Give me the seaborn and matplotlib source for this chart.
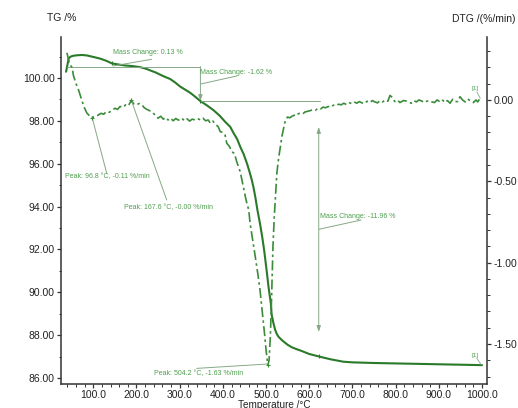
import numpy as np
import pandas as pd
import matplotlib
matplotlib.use("Agg")
import matplotlib.pyplot as plt
from matplotlib.ticker import MultipleLocator, FormatStrFormatter
import seaborn as sns

# ---------------- data ----------------
tg_temp = [37, 40, 43, 48, 55, 64, 74, 85, 100, 116,
           130, 143, 160, 175, 192, 209, 222, 232, 245, 255,
           266, 278, 290, 301, 313, 325, 336, 348, 363, 378,
           392, 405, 417, 425, 433, 440, 448, 456, 462, 467,
           471, 475, 480, 486, 491, 496, 502, 506, 511, 513,
           517, 521, 525, 529, 535, 540, 550, 560, 570, 580,
           600, 625, 650, 679, 700, 750, 800, 850, 900, 950,
           1000]
tg_mass = [100.29, 100.6, 100.92, 101.0, 101.04, 101.06, 101.07, 101.05, 100.98, 100.9,
           100.8, 100.68, 100.62, 100.58, 100.55, 100.5, 100.43, 100.35, 100.25, 100.15,
           100.05, 99.95, 99.78, 99.6, 99.45, 99.3, 99.12, 98.92, 98.72, 98.5,
           98.25, 97.96, 97.72, 97.42, 97.15, 96.8, 96.45, 96.0, 95.6, 95.24,
           94.88, 94.46, 93.84, 93.2, 92.6, 91.9, 90.9, 90.2, 89.5, 88.95,
           88.57, 88.25, 88.05, 87.92, 87.8, 87.71, 87.55, 87.43, 87.35, 87.28,
           87.12, 86.99, 86.87, 86.76, 86.73, 86.7, 86.68, 86.66, 86.64, 86.62,
           86.6]

dtg_temp = [39, 45, 51, 54, 60, 66, 72, 78, 85, 93,
            97, 103, 110, 118, 124, 130, 137, 143, 150, 156,
            162, 168, 175, 181, 188, 194, 200, 206, 213, 218,
            224, 230, 235, 242, 250, 256, 262, 268, 273, 279,
            285, 291, 297, 305, 311, 317, 323, 329, 336, 342,
            348, 354, 360, 366, 371, 377, 383, 389, 394, 400,
            405, 409, 415, 421, 427, 432, 436, 440, 444, 448,
            452, 456, 460, 463, 469, 475, 481, 486, 490, 494,
            497, 500, 504, 507, 510, 513, 516, 519, 522, 525,
            529, 533, 537, 541, 545, 550, 555, 560, 565, 570,
            575, 579, 585, 590, 596, 602, 608, 614, 620, 626,
            632, 638, 644, 650, 656, 662, 668, 674, 680, 686,
            692, 698, 704, 710, 716, 722, 728, 734, 740, 746,
            752, 758, 764, 770, 776, 782, 787, 792, 798, 804,
            810, 818, 824, 830, 836, 842, 848, 854, 860, 866,
            872, 878, 884, 890, 896, 902, 908, 914, 920, 926,
            932, 938, 944, 949, 955, 961, 967, 973, 980, 986,
            990, 995]
dtg_rate = [0.29, 0.22, 0.20, 0.15, 0.10, 0.06, 0.01, -0.04, -0.08, -0.103,
            -0.11, -0.10, -0.095, -0.082, -0.088, -0.072, -0.076, -0.064, -0.051, -0.058,
            -0.04, -0.046, -0.03, -0.036, -0.003, -0.025, -0.03, -0.022, -0.031, -0.048,
            -0.058, -0.066, -0.072, -0.09, -0.112, -0.1, -0.118, -0.108, -0.123, -0.112,
            -0.128, -0.114, -0.124, -0.112, -0.128, -0.116, -0.13, -0.118, -0.123, -0.115,
            -0.123, -0.112, -0.128, -0.123, -0.143, -0.13, -0.15, -0.164, -0.195, -0.2,
            -0.215, -0.266, -0.285, -0.318, -0.33, -0.379, -0.41, -0.44, -0.49, -0.54,
            -0.594, -0.64, -0.676, -0.758, -0.86, -0.963, -1.07, -1.168, -1.27, -1.37,
            -1.45, -1.537, -1.63, -1.60, -1.45, -1.2, -0.9, -0.72, -0.58, -0.45,
            -0.36, -0.29, -0.22, -0.17, -0.12, -0.105, -0.11, -0.1, -0.094, -0.098,
            -0.084, -0.082, -0.086, -0.074, -0.07, -0.066, -0.06, -0.064, -0.052, -0.056,
            -0.044, -0.048, -0.04, -0.044, -0.032, -0.036, -0.026, -0.03, -0.02, -0.028,
            -0.016, -0.022, -0.012, -0.02, -0.01, -0.018, -0.022, -0.008, -0.016, -0.004,
            -0.012, -0.018, -0.004, -0.012, 0.0, -0.008, 0.028, 0.016, -0.01, 0.0,
            -0.016, -0.004, -0.006, -0.012, -0.02, -0.004, -0.012, 0.0, -0.006, -0.016,
            -0.008, -0.004, -0.012, -0.016, 0.0, -0.01, 0.002, -0.016, -0.004, -0.02,
            0.004, -0.01, -0.01, 0.02, 0.0, -0.012, 0.006, -0.006, -0.016, 0.0,
            -0.012, 0.008]

x_ticks = [100, 200, 300, 400, 500, 600, 700, 800, 900, 1000]
tg_ticks = [86, 88, 90, 92, 94, 96, 98, 100]
dtg_ticks = [-1.5, -1.0, -0.5, 0.0]

tg_df = pd.DataFrame({"Temperature": tg_temp, "TG": tg_mass})
dtg_df = pd.DataFrame({"Temperature": dtg_temp, "DTG": dtg_rate})

# ---------------- style ----------------
sns.set_style("ticks")
plt.rcParams["font.family"] = ["Liberation Sans", "DejaVu Sans"]

TG_COLOR = "#2a7a2a"
DTG_COLOR = "#3a8c3a"
ANN_TEXT = "#4f9f4f"
ANN_LINE = "#86a886"
AX_COLOR = "#333333"

fig = plt.figure(figsize=(5.18, 4.08), dpi=100)
ax = fig.add_axes([61 / 518, 1 - 384 / 408, (487 - 61) / 518, (384 - 37) / 408])
ax2 = ax.twinx()

sns.lineplot(data=tg_df, x="Temperature", y="TG", ax=ax, color=TG_COLOR,
             linewidth=1.5, sort=False, estimator=None)
sns.lineplot(data=dtg_df, x="Temperature", y="DTG", ax=ax2, color=DTG_COLOR,
             linewidth=1.2, sort=False, estimator=None)
ax2.lines[0].set_dashes([6, 2, 1.5, 2])

ax.set_xlim(25.2, 1011.6)
ax.set_ylim(85.72, 101.91)
ax2.set_ylim(-1.746, 0.387)

ax.set_xticks(x_ticks)
ax.set_yticks(tg_ticks)
ax2.set_yticks(dtg_ticks)
ax.xaxis.set_minor_locator(MultipleLocator(20))
ax.yaxis.set_minor_locator(MultipleLocator(1))
ax2.yaxis.set_minor_locator(MultipleLocator(0.1))
ax.xaxis.set_major_formatter(FormatStrFormatter("%.1f"))
ax.yaxis.set_major_formatter(FormatStrFormatter("%.2f"))
ax2.yaxis.set_major_formatter(FormatStrFormatter("%.2f"))

for a in (ax, ax2):
    a.set_xlabel("")
    a.set_ylabel("")
    a.spines["top"].set_visible(False)
    for s in ("left", "right", "bottom"):
        a.spines[s].set_color(AX_COLOR)
        a.spines[s].set_linewidth(1.1)
    a.tick_params(which="major", direction="out", length=3, width=0.9,
                  color=AX_COLOR, labelsize=7.5, labelcolor="#222222", pad=1.5)
    a.tick_params(which="minor", direction="out", length=1.8, width=0.7, color=AX_COLOR)
ax.tick_params(axis="x", which="major", pad=1)
ax2.spines["left"].set_visible(False)
ax.spines["right"].set_visible(False)
ax2.spines["bottom"].set_visible(False)

fig.text(47 / 518, 1 - 18 / 408, "TG /%", fontsize=7.5, color="#222222",
         ha="left", va="center")
fig.text(516 / 518, 1 - 19 / 408, "DTG /(%/min)", fontsize=7.5, color="#222222",
         ha="right", va="center")
fig.text(274 / 518, 1 - 404.5 / 408, "Temperature /°C", fontsize=7.2, color="#222222",
         ha="center", va="center")

# ---------------- annotations ----------------
afs = 5
lw = 0.7
# Mass change 0.13 %
ax.plot([38, 348], [100.53, 100.53], color=ANN_LINE, lw=lw)
ax.plot([146, 235], [100.56, 100.87], color=ANN_LINE, lw=lw)
ax.text(145.6, 101.17, "Mass Change: 0.13 %", fontsize=afs, color=ANN_TEXT,
        ha="left", va="center")
# Mass change -1.62 %
ax.annotate("", xy=(348, 98.92), xytext=(348, 100.53),
            arrowprops=dict(arrowstyle="-|>,head_length=0.35,head_width=0.12",
                            color=ANN_LINE, lw=lw, shrinkA=0, shrinkB=0))
ax.plot([348, 625], [98.92, 98.92], color=ANN_LINE, lw=lw)
ax.plot([349, 432], [99.72, 100.09], color=ANN_LINE, lw=lw)
ax.text(347.4, 100.27, "Mass Change: -1.62 %", fontsize=afs, color=ANN_TEXT,
        ha="left", va="center")
# Mass change -11.96 %
ax.annotate("", xy=(622, 88.15), xytext=(622, 97.71),
            arrowprops=dict(arrowstyle="<|-|>,head_length=0.35,head_width=0.12",
                            color=ANN_LINE, lw=lw, shrinkA=0, shrinkB=0))
ax.plot([622.6, 720], [92.94, 93.37], color=ANN_LINE, lw=lw)
ax.text(624, 93.53, "Mass Change: -11.96 %", fontsize=afs, color=ANN_TEXT,
        ha="left", va="center")
# Peaks
ax2.plot([96.8, 131], [-0.103, -0.45], color=ANN_LINE, lw=lw)
ax2.text(34.5, -0.47, "Peak: 96.8 °C, -0.11 %/min", fontsize=afs, color=ANN_TEXT,
         ha="left", va="center")
ax2.plot([189, 270], [-0.01, -0.615], color=ANN_LINE, lw=lw)
ax2.text(171, -0.664, "Peak: 167.6 °C, -0.00 %/min", fontsize=afs, color=ANN_TEXT,
         ha="left", va="center")
ax2.plot([339.4, 503.8], [-1.65, -1.623], color=ANN_LINE, lw=lw)
ax2.text(240.5, -1.68, "Peak: 504.2 °C, -1.63 %/min", fontsize=afs, color=ANN_TEXT,
         ha="left", va="center")
# end markers
ax2.text(984, 0.068, "[1]", fontsize=4.5, color=ANN_TEXT, ha="center", va="center")
ax2.plot([988, 996], [0.05, 0.01], color=ANN_LINE, lw=0.6)
ax.text(984, 87.04, "[1]", fontsize=4.5, color=ANN_TEXT, ha="center", va="center")
ax.plot([988, 998], [86.92, 86.62], color=ANN_LINE, lw=0.6)

# small marks at evaluation points, taken from the data arrays
mark_t = [143, 348, 622]
ax.plot(mark_t, np.interp(mark_t, tg_temp, tg_mass), ls="none", marker="|",
        ms=3, color=TG_COLOR, mew=0.8)
peak_t = [97, 188, 504]
ax2.plot(peak_t, np.interp(peak_t, dtg_temp, dtg_rate), ls="none", marker="+",
         ms=3, color=DTG_COLOR, mew=0.8)

fig.savefig("out.png", dpi=100)
